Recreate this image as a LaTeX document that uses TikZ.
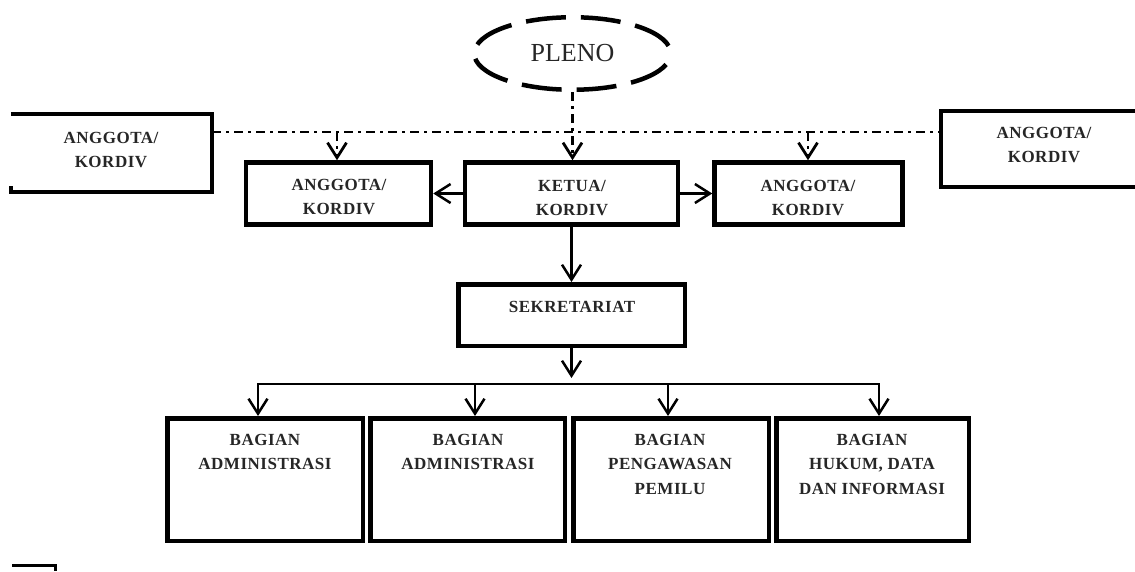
\documentclass[tikz,border=0pt]{standalone}
\usepackage{fontspec}
\setmainfont{Liberation Serif}
\newfontfamily\boxfont[LetterSpace=3]{Liberation Serif}
\usetikzlibrary{arrows.meta,shapes.geometric}
\begin{document}
\begin{tikzpicture}[x=1pt,y=-1pt,
  boxst/.style={draw, line width=4.5pt, rectangle, inner sep=0pt},
  txt/.style={font=\boxfont\bfseries\fontsize{17}{24.5}\selectfont, align=center, inner sep=0pt, anchor=north, text=black!85},
  conn/.style={line width=2.5pt},
  ddot/.style={line width=2.8pt, dash pattern=on 9pt off 5pt on 3pt off 5pt},
  arr/.style={-{Straight Barb[length=15pt,width=19pt]}},
]
\useasboundingbox (0,0) rectangle (1135,571);
\clip (0,0) rectangle (1135,571);
\fill[white] (0,0) rectangle (1135,571);

% PLENO
\node[ellipse, draw, line width=4.5pt, dash pattern=on 40pt off 15pt, dash phase=47pt,
      minimum width=196.5pt, minimum height=72.5pt, inner sep=0pt,
      font=\fontsize{26}{30}\selectfont, text=black!85] (pleno) at (572.5,53.5) {PLENO};

% top left box (cut off)
\node[minimum width=201pt, minimum height=78pt, inner sep=0pt] (lbox) at (111.5,153) {};
\draw[line width=4.5pt] (lbox.north west) -- (lbox.north east) -- (lbox.south east) -- (lbox.south west) -- ++(0,-6);
\node[txt] (lboxt) at (111,132) {ANGGOTA/\\KORDIV};

% top right box (cut off)
\node[boxst, minimum width=207pt, minimum height=76pt] (rbox) at (1044.5,149) {};
\node[txt] (rboxt) at (1044,127) {ANGGOTA/\\KORDIV};

% middle row
\node[boxst, minimum width=185pt, minimum height=62pt] (aL) at (338.5,193.5) {};
\node[txt] (aLt) at (339,179) {ANGGOTA/\\KORDIV};
\node[boxst, minimum width=213pt, minimum height=62pt] (ket) at (571.5,193.5) {};
\node[txt] (kett) at (572,180) {KETUA/\\KORDIV};
\node[boxst, minimum width=188pt, minimum height=62pt] (aR) at (808.5,193.5) {};
\node[txt] (aRt) at (808,180) {ANGGOTA/\\KORDIV};

% sekretariat
\node[boxst, minimum width=226.5pt, minimum height=61.5pt] (sek) at (571.5,315) {};
\node[txt] (sekt) at (572,301) {SEKRETARIAT};

% bottom row
\node[boxst, minimum width=195.5pt, minimum height=122.5pt] (b1) at (265,479.5) {};
\node[boxst, minimum width=194.5pt, minimum height=122.5pt] (b2) at (467.5,479.5) {};
\node[boxst, minimum width=195.5pt, minimum height=122.5pt] (b3) at (671,479.5) {};
\node[boxst, minimum width=192.5pt, minimum height=122.5pt] (b4) at (872.5,479.5) {};
\node[txt] (b1t) at (265,434) {BAGIAN\\ADMINISTRASI};
\node[txt] (b2t) at (468,434) {BAGIAN\\ADMINISTRASI};
\node[txt] (b3t) at (670,434) {BAGIAN\\PENGAWASAN\\PEMILU};
\node[txt] (b4t) at (872,434) {BAGIAN\\HUKUM, DATA\\DAN INFORMASI};

% dash-dot connectors
\coordinate (hl) at (0,132);
\draw[ddot] (lbox.east |- hl) -- (rbox.west |- hl);
\draw[ddot, arr] (pleno.south) -- (pleno.south |- ket.north);
\coordinate (aLin) at (337,132);
\coordinate (aRin) at (808,132);
\draw[ddot, arr] (aLin) -- (aLin |- aL.north);
\draw[ddot, arr] (aRin) -- (aRin |- aR.north);

% solid connectors
\draw[conn, arr] (ket.west) -- (aL.east);
\draw[conn, arr] (ket.east) -- (aR.west);
\draw[conn, arr] (ket.south) -- (ket.south |- sek.north);
\coordinate (hub) at (571.5,378);
\draw[conn, arr] (sek.south) -- (hub);
\coordinate (d1) at (258,384);
\coordinate (d2) at (475,384);
\coordinate (d3) at (668,384);
\coordinate (d4) at (879,384);
\draw[conn, line cap=rect] (d1) -- (d4);
\draw[conn, arr] (d1) -- (d1 |- b1.north);
\draw[conn, arr] (d2) -- (d2 |- b2.north);
\draw[conn, arr] (d3) -- (d3 |- b3.north);
\draw[conn, arr] (d4) -- (d4 |- b4.north);

% stray fragment at bottom left
\draw[line width=3pt] (12,565) -- (55,565) -- (55,571);
\end{tikzpicture}
\end{document}
